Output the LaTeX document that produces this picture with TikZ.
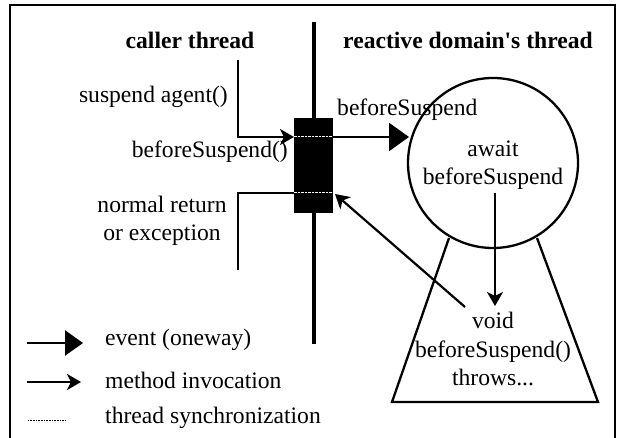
\documentclass[tikz,border=0pt]{standalone}
\usepackage{fontspec}
\setmainfont{Liberation Serif}[Ligatures=TeXOff]
\usetikzlibrary{arrows.meta}
\begin{document}
\begin{tikzpicture}[x=1pt,y=-1pt,
  every node/.style={font=\fontsize{23.6}{28.5}\selectfont, inner sep=0pt},
  ln/.style={line width=2.4pt},
  hdr/.style={font=\fontsize{23.6}{28.5}\selectfont\bfseries},
  event/.style={ln, -{Triangle[length=20pt,width=28pt]}},
  call/.style={ln, -{Stealth[length=14pt,width=16pt,inset=4pt]}},
  sync/.style={white, line width=1pt, dash pattern=on 2.5pt off 1pt},
]
\useasboundingbox (0,0) rectangle (618,438);
% frame (open at bottom)
\draw[line width=2.4pt] (10,440) -- (10,5) -- (615,5) -- (615,440);

% headers
\node[hdr] (h1) at (190,40) {caller thread};
\node[hdr] (h2) at (468,40) {reactive domain's thread};

% main thread line
\coordinate (mt) at (314,22);
\coordinate (mb) at (314,344);
\draw[line width=3.2pt] (mt) -- (mb);

% black synchronization box
\node[fill=black, minimum width=39pt, minimum height=95pt, anchor=north west] (box) at (294,118) {};
\coordinate (s1l) at (294,137); \coordinate (s1r) at (333,137);
\coordinate (s2l) at (294,193); \coordinate (s2r) at (333,193);
\draw[sync] (s1l) -- (s1r);
\draw[sync] (s2l) -- (s2r);

% caller side
\coordinate (ct) at (238,60);
\coordinate (cc) at (238,137);
\draw[call] (ct) -- (cc) -- (s1l);
\coordinate (rc) at (238,193);
\coordinate (rb) at (238,270);
\draw[ln] (s2l) -- (rc) -- (rb);

\node[anchor=east] (sa) at (228,97) {suspend agent()};
\node[anchor=east] (bs) at (288,152) {beforeSuspend()};
\node[align=center] (nr) at (162,221) {normal return\\or exception};

% reactive side
\node[circle, draw, line width=2.3pt, minimum size=170pt] (c) at (493,163) {};
\node[align=center] (ct1) at (493,165) {await\\beforeSuspend};
\draw[line width=2.3pt] (449,238) -- (392,402) -- (598,402) -- (537,238);
\node[align=center] (tt) at (493,349) {void\\beforeSuspend()\\throws...};

\coordinate (cw) at (409,137);
\draw[event] (s1r) -- (cw);
\node[anchor=west] (ev) at (337,110) {beforeSuspend};

\coordinate (d1) at (495,193);
\coordinate (d2) at (495,306);
\draw[call] (d1) -- (d2);

\coordinate (r1) at (465,307);
\draw[call, line width=2.2pt] (r1) -- (335,194);

% legend
\coordinate (l1a) at (27,343); \coordinate (l1b) at (83,343);
\draw[ln, -{Triangle[length=18pt,width=25pt]}] (l1a) -- (l1b);
\node[anchor=west] (lt1) at (105,340) {event (oneway)};
\coordinate (l2a) at (27,382); \coordinate (l2b) at (81,382);
\draw[call] (l2a) -- (l2b);
\node[anchor=west] (lt2) at (105,380) {method invocation};
\coordinate (l3a) at (28,420); \coordinate (l3b) at (65,420);
\draw[line width=0.8pt, dash pattern=on 0.8pt off 0.8pt] (l3a) -- (l3b);
\node[anchor=west] (lt3) at (105,418) {thread synchronization};
\end{tikzpicture}
\end{document}
